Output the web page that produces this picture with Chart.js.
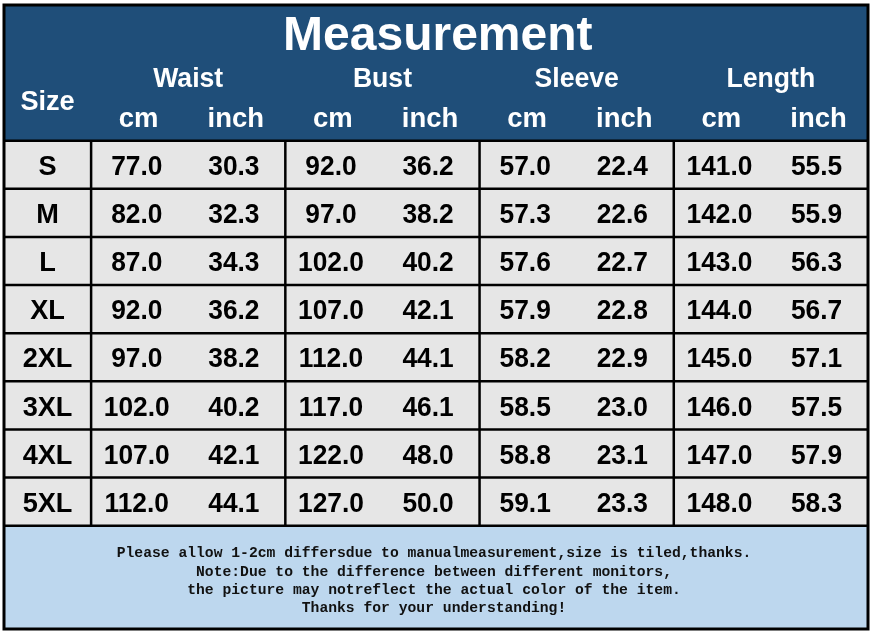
<!DOCTYPE html>
<html>
<head>
<meta charset="utf-8">
<title>Measurement</title>
<script src="https://cdn.jsdelivr.net/npm/chart.js@4"></script>
<style>
    html, body { margin: 0; padding: 0; background: #ffffff; }
    canvas { display: block; }
</style>
</head>
<body>
<canvas id="sizeChart" width="873" height="641"></canvas>
<script>
// Size table data
const title = 'Measurement';
const sizes = ['S', 'M', 'L', 'XL', '2XL', '3XL', '4XL', '5XL'];
const groups = ['Waist', 'Bust', 'Sleeve', 'Length'];
const units = ['cm', 'inch'];

const waistCm = [77.0, 82.0, 87.0, 92.0, 97.0, 102.0, 107.0, 112.0];
const waistInch = [30.3, 32.3, 34.3, 36.2, 38.2, 40.2, 42.1, 44.1];
const bustCm = [92.0, 97.0, 102.0, 107.0, 112.0, 117.0, 122.0, 127.0];
const bustInch = [36.2, 38.2, 40.2, 42.1, 44.1, 46.1, 48.0, 50.0];
const sleeveCm = [57.0, 57.3, 57.6, 57.9, 58.2, 58.5, 58.8, 59.1];
const sleeveInch = [22.4, 22.6, 22.7, 22.8, 22.9, 23.0, 23.1, 23.3];
const lengthCm = [141.0, 142.0, 143.0, 144.0, 145.0, 146.0, 147.0, 148.0];
const lengthInch = [55.5, 55.9, 56.3, 56.7, 57.1, 57.5, 57.9, 58.3];

const notes = [
    'Please allow 1-2cm differsdue to manualmeasurement,size is tiled,thanks.',
    'Note:Due to the difference between different monitors,',
    'the picture may notreflect the actual color of the item.',
    'Thanks for your understanding!'
];

const columns = [waistCm, waistInch, bustCm, bustInch, sleeveCm, sleeveInch, lengthCm, lengthInch];

// table geometry in scale units (1 x unit = one value column, 1 y unit = one row)
const SIZE_COL = -0.897;
const HEADER_TOP = -2.82;
const FOOTER_BOTTOM = 10.146;

const HEADER_BG = '#1f4e79';
const CELL_BG = '#e6e6e6';
const FOOTER_BG = '#bdd7ee';
const SANS = '"Liberation Sans", Arial, sans-serif';

function cellPoints(values, colIndex) {
    return values.map((v, i) => ({ x: colIndex + 0.47, y: i + 0.71, label: v.toFixed(1) }));
}

const datasets = [{
    label: 'Size',
    data: sizes.map((s, i) => ({ x: SIZE_COL / 2, y: i + 0.71, label: s })),
    pointRadius: 0,
    font: 'bold 28px ' + SANS,
    squeeze: 0.97
}].concat(columns.map((values, c) => ({
    label: groups[Math.floor(c / 2)] + ' ' + units[c % 2],
    data: cellPoints(values, c),
    pointRadius: 0,
    font: 'bold 28px ' + SANS,
    squeeze: 0.94
})));

// draw text squeezed horizontally like the source image
function squeezedText(ctx, text, px, py, squeeze) {
    const w = ctx.measureText(text).width;
    ctx.fillText(text, px, py, w * squeeze);
}

const tablePlugin = {
    id: 'tablePlugin',
    beforeDatasetsDraw(chart) {
        const { ctx, scales: { x, y } } = chart;
        const left = x.getPixelForValue(SIZE_COL);
        const right = x.getPixelForValue(columns.length);
        const top = y.getPixelForValue(HEADER_TOP);
        const bodyTop = y.getPixelForValue(0);
        const bodyBottom = y.getPixelForValue(sizes.length);
        const bottom = y.getPixelForValue(FOOTER_BOTTOM);

        ctx.save();
        ctx.fillStyle = HEADER_BG;
        ctx.fillRect(left, top, right - left, bodyTop - top);
        ctx.fillStyle = CELL_BG;
        ctx.fillRect(left, bodyTop, right - left, bodyBottom - bodyTop);
        ctx.fillStyle = FOOTER_BG;
        ctx.fillRect(left, bodyBottom, right - left, bottom - bodyBottom);

        ctx.strokeStyle = '#000000';
        ctx.lineWidth = 2.5;
        // row lines
        for (let r = 0; r <= sizes.length; r++) {
            const py = y.getPixelForValue(r);
            ctx.beginPath();
            ctx.moveTo(left, py);
            ctx.lineTo(right, py);
            ctx.stroke();
        }
        // group lines
        for (let g = 0; g < groups.length; g++) {
            const px = x.getPixelForValue(g * 2);
            ctx.beginPath();
            ctx.moveTo(px, bodyTop);
            ctx.lineTo(px, bodyBottom);
            ctx.stroke();
        }
        ctx.lineWidth = 3;
        ctx.strokeRect(left, top, right - left, bottom - top);

        // header texts
        ctx.fillStyle = '#ffffff';
        ctx.textAlign = 'center';
        ctx.textBaseline = 'alphabetic';
        ctx.font = 'bold 48px ' + SANS;
        ctx.fillText(title, x.getPixelForValue(3.57), y.getPixelForValue(-1.89));
        ctx.font = 'bold 28px ' + SANS;
        groups.forEach((g, i) => {
            squeezedText(ctx, g, x.getPixelForValue(i * 2 + 1), y.getPixelForValue(-1.12), 0.95);
        });
        squeezedText(ctx, 'Size', x.getPixelForValue(SIZE_COL / 2), y.getPixelForValue(-0.64), 0.97);
        for (let c = 0; c < columns.length; c++) {
            squeezedText(ctx, units[c % 2], x.getPixelForValue(c + 0.49), y.getPixelForValue(-0.28), 0.98);
        }

        // footer notes
        ctx.fillStyle = '#111111';
        ctx.font = 'bold 14.7px "Liberation Mono", "Courier New", monospace';
        const midX = (left + right) / 2 - 2;
        notes.forEach((line, i) => {
            ctx.fillText(line, midX, y.getPixelForValue(sizes.length + 0.66 + i * 0.375));
        });
        ctx.restore();
    },
    afterDatasetsDraw(chart) {
        const { ctx } = chart;
        ctx.save();
        ctx.fillStyle = '#000000';
        ctx.textAlign = 'center';
        ctx.textBaseline = 'alphabetic';
        chart.data.datasets.forEach((ds, d) => {
            const meta = chart.getDatasetMeta(d);
            ctx.font = ds.font;
            meta.data.forEach((pt, i) => {
                squeezedText(ctx, ds.data[i].label, pt.x, pt.y, ds.squeeze);
            });
        });
        ctx.restore();
    }
};

new Chart(document.getElementById('sizeChart'), {
    type: 'scatter',
    data: { datasets: datasets },
    options: {
        responsive: false,
        animation: false,
        devicePixelRatio: 1,
        layout: { padding: { left: 4, right: 5, top: 5, bottom: 12 } },
        plugins: {
            legend: { display: false },
            tooltip: { enabled: false }
        },
        scales: {
            x: { type: 'linear', min: SIZE_COL, max: columns.length, display: false },
            y: { type: 'linear', min: HEADER_TOP, max: FOOTER_BOTTOM, reverse: true, display: false }
        }
    },
    plugins: [tablePlugin]
});
</script>
</body>
</html>
